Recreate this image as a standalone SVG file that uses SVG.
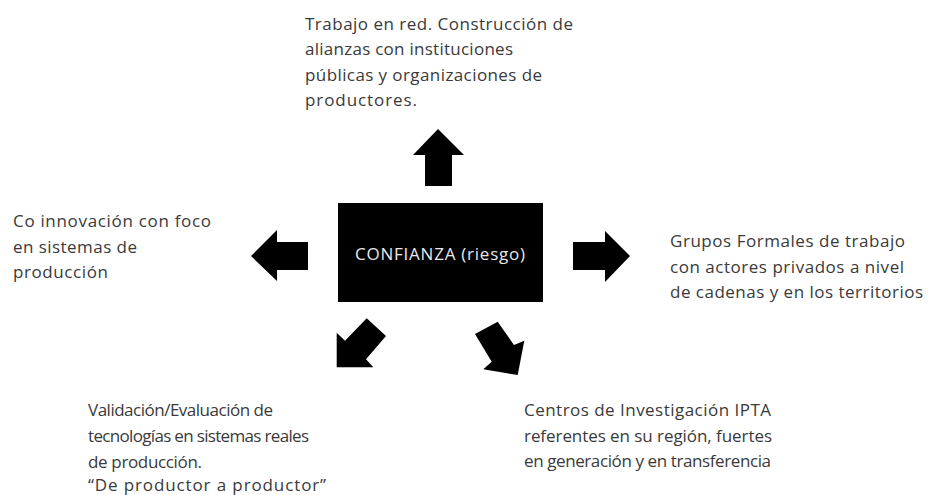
<svg xmlns="http://www.w3.org/2000/svg" width="928" height="495" viewBox="0 0 928 495">
<style>
.t{font-family:"Open Sans","Noto Sans","Liberation Sans",sans-serif;font-size:17px;fill:#3a3a3a;}
.c{font-family:"Open Sans","Noto Sans","Liberation Sans",sans-serif;font-size:17px;fill:#e8e8e8;}
.arr{fill:#000;stroke:none;}
</style>
<rect width="928" height="495" fill="#fff"/>
<g id="connectors">
<polygon class="arr" points="425,186 425,155 413,155 438,129 464,155 452,155 452,186"/>
<polygon class="arr" points="308,242 277,242 277,230 251,256 277,281 277,270 308,270"/>
<polygon class="arr" points="573,242 605,242 605,231 630,256 605,282 605,270 573,270"/>
<polygon class="arr" points="366.7,318.3 386,336 366,359.3 373.3,367.3 336.7,367.3 336.7,332.7 345,340.7"/>
<polygon class="arr" points="475,334 497.7,321.7 514,345 524.3,340.7 517.7,375 483.3,369.3 491.7,361.7"/>
</g>
<g id="center">
<rect x="338" y="203" width="205" height="99" fill="#000"/>
<text class="c" x="355" y="259.5" textLength="170">CONFIANZA (riesgo)</text>
</g>
<g id="top">
<text class="t" x="305" y="29.5" textLength="268">Trabajo en red. Construcción de</text>
<text class="t" x="305" y="55" textLength="208">alianzas con instituciones</text>
<text class="t" x="305" y="80.5" textLength="237">públicas y organizaciones de</text>
<text class="t" x="305" y="106" textLength="112">productores.</text>
</g>
<g id="left">
<text class="t" x="13" y="227" textLength="198">Co innovación con foco</text>
<text class="t" x="13" y="252.5" textLength="124">en sistemas de</text>
<text class="t" x="13" y="278" textLength="95">producción</text>
</g>
<g id="right">
<text class="t" x="670" y="247" textLength="235">Grupos Formales de trabajo</text>
<text class="t" x="670" y="272.5" textLength="234">con actores privados a nivel</text>
<text class="t" x="670" y="298" textLength="253">de cadenas y en los territorios</text>
</g>
<g id="bottom-left">
<text class="t" x="88" y="416" textLength="185">Validación/Evaluación de</text>
<text class="t" x="88" y="441.7" textLength="221">tecnologías en sistemas reales</text>
<text class="t" x="88" y="467.5" textLength="114">de producción.</text>
<text class="t" x="88" y="491" textLength="238">“De productor a productor”</text>
</g>
<g id="bottom-right">
<text class="t" x="524" y="415.7" textLength="247">Centros de Investigación IPTA</text>
<text class="t" x="524" y="441.5" textLength="248">referentes en su región, fuertes</text>
<text class="t" x="524" y="467" textLength="247">en generación y en transferencia</text>
</g>
</svg>
